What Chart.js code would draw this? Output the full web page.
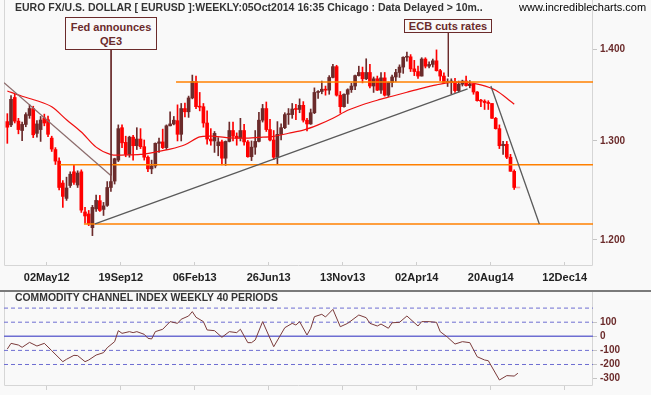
<!DOCTYPE html>
<html>
<head>
<meta charset="utf-8">
<title>EURUSD Weekly</title>
<script src="https://cdn.jsdelivr.net/npm/chart.js@4.4.1/dist/chart.umd.min.js"></script>
<style>
    html, body { margin: 0; padding: 0; background: #f9f9f9; }
    #page { position: relative; width: 651px; height: 395px; overflow: hidden; font-family: 'Liberation Sans', Arial, sans-serif; }
    #priceBox { position: absolute; left: 0; top: 0; width: 651px; height: 290px; }
    #cciBox { position: absolute; left: 0; top: 292px; width: 651px; height: 103px; }
    #divider { position: absolute; left: 0; top: 290px; width: 651px; height: 2px; background: #7a7a7a; }
    .caption { position: absolute; font-weight: bold; font-size: 10.5px; color: #333; white-space: nowrap; z-index: 2; }
    .site { position: absolute; font-size: 11px; color: #000; white-space: nowrap; z-index: 2; }
    .callout { position: absolute; border: 1px solid #6b2b2b; color: #6b2b2b; font-weight: bold; font-size: 11px;
               text-align: center; line-height: 14px; box-sizing: border-box; background: #f9f9f9; z-index: 2; }
</style>
</head>
<body>
<div id="page">
    <div id="priceBox"><canvas id="priceChart"></canvas></div>
    <div id="divider"></div>
    <div id="cciBox"><canvas id="cciChart"></canvas></div>

    <div class="caption" style="left:15px; top:1px;">EURO FX/U.S. DOLLAR [ EURUSD ]:WEEKLY:05Oct2014 16:35 Chicago : Data Delayed &gt; 10m..</div>
    <div class="site" style="left:519px; top:1px;">www.incrediblecharts.com</div>
    <div class="callout" style="left:65px; top:17px; width:92px; height:33px; padding-top:2px;">Fed announces<br>QE3</div>
    <div class="callout" style="left:404px; top:19px; width:88px; height:14px; line-height:12px;">ECB cuts rates</div>
    <div class="caption" style="left:15px; top:292px; font-size:10.4px;">COMMODITY CHANNEL INDEX WEEKLY 40 PERIODS</div>
</div>

<script>
// ---- data (weekly bars, index 0 = week of 15Feb12) ----
const tickLabels = ['02May12', '19Sep12', '06Feb13', '26Jun13', '13Nov13', '02Apr14', '20Aug14', '12Dec14'];
const tickWeeks = [10.65, 30.65, 50.65, 70.65, 90.65, 110.65, 130.65, 150.65];
const priceTicks = [1.2, 1.3, 1.4];
const cciTicks = [-300, -200, -100, 0, 100];

const candleOpen = [
    1.3205, 1.3170, 1.3465, 1.3210, 1.3110, 1.3175, 1.3270, 1.3345, 1.3080, 1.3120,
    1.3245, 1.3225, 1.3030, 1.2910, 1.2790, 1.2565, 1.2410, 1.2540, 1.2680, 1.2545,
    1.2680, 1.2275, 1.2255, 1.2120, 1.2305, 1.2387, 1.2300, 1.2340, 1.2520, 1.2585,
    1.2800, 1.3140, 1.2985, 1.2860, 1.3040, 1.2950, 1.3020, 1.2940, 1.2830, 1.2710,
    1.2740, 1.2975, 1.2990, 1.2930, 1.3160, 1.3180, 1.3215, 1.3070, 1.3345, 1.3310,
    1.3460, 1.3640, 1.3365, 1.3365, 1.3190, 1.3020, 1.3000, 1.2950, 1.2990, 1.2820,
    1.2995, 1.3110, 1.3050, 1.3030, 1.3110, 1.2990, 1.2835, 1.2935, 1.2995, 1.3220,
    1.3345, 1.3120, 1.3010, 1.2830, 1.3070, 1.3140, 1.3280, 1.3280, 1.3340, 1.3335,
    1.3380, 1.3220, 1.3180, 1.3300, 1.3520, 1.3530, 1.3555, 1.3545, 1.3685, 1.3805,
    1.3490, 1.3365, 1.3500, 1.3550, 1.3590, 1.3705, 1.3740, 1.3670, 1.3740, 1.3590,
    1.3670, 1.3545, 1.3680, 1.3490, 1.3630, 1.3690, 1.3740, 1.3800, 1.3910, 1.3915,
    1.3780, 1.3750, 1.3700, 1.3890, 1.3810, 1.3830, 1.3870, 1.3760, 1.3700, 1.3630,
    1.3635, 1.3640, 1.3540, 1.3610, 1.3645, 1.3595, 1.3610, 1.3525, 1.3430, 1.3425,
    1.3410, 1.3400, 1.3240, 1.3130, 1.2950, 1.2965, 1.2830, 1.2685
];
const candleHigh = [
    1.3290, 1.3486, 1.3500, 1.3240, 1.3200, 1.3300, 1.3385, 1.3370, 1.3215, 1.3260,
    1.3285, 1.3265, 1.3050, 1.2930, 1.2825, 1.2590, 1.2625, 1.2680, 1.2748, 1.2690,
    1.2700, 1.2320, 1.2290, 1.2340, 1.2443, 1.2440, 1.2370, 1.2580, 1.2635, 1.2820,
    1.3170, 1.3170, 1.3050, 1.3050, 1.3060, 1.3140, 1.3130, 1.3010, 1.2845, 1.2800,
    1.2980, 1.3030, 1.3125, 1.3170, 1.3310, 1.3260, 1.3385, 1.3400, 1.3405, 1.3480,
    1.3711, 1.3700, 1.3520, 1.3400, 1.3320, 1.3130, 1.3100, 1.3035, 1.3010, 1.3000,
    1.3200, 1.3200, 1.3085, 1.3240, 1.3175, 1.3005, 1.3000, 1.3110, 1.3305, 1.3390,
    1.3416, 1.3230, 1.3110, 1.3205, 1.3180, 1.3300, 1.3345, 1.3400, 1.3390, 1.3450,
    1.3420, 1.3240, 1.3340, 1.3570, 1.3540, 1.3645, 1.3590, 1.3705, 1.3832, 1.3820,
    1.3530, 1.3505, 1.3560, 1.3620, 1.3710, 1.3810, 1.3800, 1.3893, 1.3830, 1.3690,
    1.3700, 1.3740, 1.3740, 1.3635, 1.3710, 1.3775, 1.3825, 1.3915, 1.3967, 1.3940,
    1.3875, 1.3810, 1.3905, 1.3905, 1.3860, 1.3890, 1.3993, 1.3775, 1.3735, 1.3670,
    1.3670, 1.3675, 1.3645, 1.3655, 1.3700, 1.3650, 1.3615, 1.3530, 1.3445, 1.3440,
    1.3430, 1.3400, 1.3250, 1.3170, 1.2995, 1.2995, 1.2860, 1.2700
];
const candleLow = [
    1.2975, 1.3150, 1.3190, 1.3075, 1.3004, 1.3150, 1.3240, 1.3035, 1.3040, 1.2995,
    1.3160, 1.3045, 1.2890, 1.2755, 1.2495, 1.2320, 1.2390, 1.2520, 1.2550, 1.2520,
    1.2270, 1.2165, 1.2140, 1.2042, 1.2280, 1.2280, 1.2240, 1.2330, 1.2480, 1.2555,
    1.2785, 1.2930, 1.2835, 1.2830, 1.2800, 1.2910, 1.2920, 1.2800, 1.2680, 1.2660,
    1.2720, 1.2880, 1.2920, 1.2910, 1.3160, 1.3170, 1.3000, 1.3000, 1.3255, 1.3250,
    1.3450, 1.3345, 1.3320, 1.3145, 1.2965, 1.2955, 1.2880, 1.2845, 1.2750, 1.2745,
    1.2990, 1.3000, 1.2955, 1.3000, 1.2955, 1.2830, 1.2795, 1.2860, 1.2990, 1.3200,
    1.3100, 1.3000, 1.2805, 1.2755, 1.3010, 1.3130, 1.3175, 1.3240, 1.3225, 1.3300,
    1.3200, 1.3105, 1.3175, 1.3290, 1.3455, 1.3505, 1.3490, 1.3500, 1.3680, 1.3480,
    1.3295, 1.3360, 1.3400, 1.3520, 1.3550, 1.3700, 1.3625, 1.3660, 1.3570, 1.3520,
    1.3540, 1.3510, 1.3480, 1.3475, 1.3580, 1.3640, 1.3685, 1.3730, 1.3865, 1.3750,
    1.3705, 1.3675, 1.3700, 1.3790, 1.3790, 1.3800, 1.3755, 1.3650, 1.3620, 1.3585,
    1.3503, 1.3520, 1.3525, 1.3590, 1.3590, 1.3570, 1.3500, 1.3425, 1.3365, 1.3335,
    1.3335, 1.3240, 1.3125, 1.2920, 1.2860, 1.2815, 1.2685, 1.2500
];
const candleClose = [
    1.3145, 1.3445, 1.3210, 1.3120, 1.3175, 1.3280, 1.3345, 1.3065, 1.3180, 1.3222,
    1.3190, 1.3070, 1.2915, 1.2790, 1.2520, 1.2430, 1.2515, 1.2655, 1.2572, 1.2667,
    1.2293, 1.2235, 1.2158, 1.2320, 1.2390, 1.2290, 1.2335, 1.2520, 1.2580, 1.2815,
    1.3130, 1.2980, 1.2860, 1.3040, 1.2950, 1.3020, 1.2940, 1.2830, 1.2710, 1.2740,
    1.2975, 1.2990, 1.2930, 1.3160, 1.3180, 1.3220, 1.3070, 1.3345, 1.3310, 1.3460,
    1.3640, 1.3365, 1.3360, 1.3190, 1.3020, 1.3000, 1.3080, 1.2990, 1.2820, 1.2995,
    1.3110, 1.3050, 1.3030, 1.3110, 1.2990, 1.2835, 1.2935, 1.2995, 1.3220, 1.3345,
    1.3120, 1.3010, 1.2830, 1.3070, 1.3140, 1.3280, 1.3285, 1.3340, 1.3335, 1.3380,
    1.3220, 1.3180, 1.3300, 1.3520, 1.3530, 1.3555, 1.3545, 1.3685, 1.3805, 1.3490,
    1.3365, 1.3500, 1.3550, 1.3590, 1.3705, 1.3740, 1.3670, 1.3740, 1.3590, 1.3670,
    1.3545, 1.3680, 1.3490, 1.3630, 1.3690, 1.3740, 1.3800, 1.3910, 1.3915, 1.3780,
    1.3750, 1.3700, 1.3890, 1.3810, 1.3830, 1.3870, 1.3760, 1.3700, 1.3630, 1.3635,
    1.3640, 1.3540, 1.3610, 1.3645, 1.3595, 1.3610, 1.3525, 1.3430, 1.3425, 1.3410,
    1.3400, 1.3240, 1.3130, 1.2950, 1.2965, 1.2830, 1.2685, 1.2520
];
// unfinished week after the last full bar
const currentWeek = 138;
const currentWeekPrice = 1.2515;

// red moving average, read every four weeks
const maWeeks = [0, 4, 8, 12, 16, 20, 24, 28, 32, 36, 40, 44, 48, 52, 56, 60, 64, 68,
    72, 76, 80, 84, 88, 92, 96, 100, 104, 108, 112, 116, 120, 124, 128, 132, 136, 137];
const maValues = [1.3536, 1.3478, 1.3430, 1.3364, 1.3225, 1.3095, 1.2935, 1.2857, 1.2854, 1.2859,
    1.2884, 1.2914, 1.2960, 1.3043, 1.3049, 1.3033, 1.3029, 1.3038, 1.3049, 1.3081,
    1.3114, 1.3170, 1.3241, 1.3326, 1.3386, 1.3435, 1.3478, 1.3522, 1.3565, 1.3603,
    1.3630, 1.3630, 1.3603, 1.3543, 1.3424, 1.3391];

// horizontal levels (orange)
const levelPrices = [1.3634, 1.2752, 1.2155];
const levelStartWeeks = [45.6, 14.2, 20.7];

// hand-drawn trend lines
const trendStartWeeks = [-0.9, 23.7, 130.7];
const trendStartPrices = [1.3627, 1.2156, 1.3591];
const trendEndWeeks = [28.05, 124.4, 143.8];
const trendEndPrices = [1.2640, 1.3558, 1.2156];

// callout pointers (Fed QE3, ECB cut)
const calloutWeeks = [28.05, 119.2];
const calloutTopPrices = [1.4004, 1.4190];
const calloutBottomPrices = [1.2640, 1.3694];

// commodity channel index (40 weeks)
const cciWeeks = [0, 1, 3, 4, 6, 8, 10, 12, 15, 16, 18, 19, 21, 22, 24, 26, 27, 29, 30, 31,
    33, 34, 35, 37, 38, 39, 40, 42, 44, 46, 47, 49, 50, 51, 53, 54, 56, 58, 60, 62,
    63, 65, 66, 67, 69, 72, 75, 77, 78, 79, 81, 82, 83, 85, 86, 88, 90, 92, 95, 97,
    98, 100, 101, 103, 104, 106, 108, 111, 112, 114, 116, 117, 119, 121, 123, 125, 127, 129, 130, 133,
    135, 137, 138];
const cciValues = [-90, -50, -62, -78, -43, -69, -50, -102, -180, -163, -135, -137, -180, -168, -133, -116, -81, -38, 40, 21,
    33, 26, 33, 14, -14, -19, 33, 50, 104, 92, 121, 144, 175, 135, 104, 45, 40, -7, 33, 26,
    50, -45, -45, -26, 104, -74, 61, 92, 80, 104, 9, 57, 139, 156, 137, 191, 68, 92, 151, 132,
    92, 73, 87, 57, 96, 99, 144, 73, 104, 104, 99, 33, -7, -55, -38, -45, -145, -168, -173, -310,
    -279, -282, -262];
const cciGuideLevels = [200, 100, -100, -200];

// ---- look ----
const X_MIN = -0.9;
const X_MAX = 158.3;
const PRICE_MIN = 1.175;
const PRICE_MAX = 1.4569;
const CCI_MIN = -352.5;
const CCI_MAX = 314.2;

const UP_COLOUR = '#6b2b2b';
const DOWN_COLOUR = '#ff0000';
const PARTIAL_COLOUR = '#f4a8a8';
const MA_COLOUR = '#f01010';
const LEVEL_COLOUR = '#ff8000';
const TREND_COLOURS = ['#8c6c6c', '#5a5a5a', '#5a5a5a'];
const CALLOUT_COLOUR = '#6b2b2b';
const LABEL_RED = '#6b2b2b';
const FRAME_COLOUR = '#d6d6d6';
const CCI_LINE_COLOUR = '#7a3a3a';
const CCI_GUIDE_COLOUR = '#6e6ed2';
const FONT = "'Liberation Sans', Arial, sans-serif";

document.addEventListener('DOMContentLoaded', function() {
    Chart.defaults.font.family = FONT;
    Chart.defaults.animation = false;
    drawPriceChart();
    drawCciChart();
});

/**
 * Thin frame round the plot area of each panel
 */
const panelFrame = {
    id: 'panelFrame',
    beforeDatasetsDraw(chart) {
        const { left, top, right, bottom } = chart.chartArea;
        const ctx = chart.ctx;
        ctx.save();
        ctx.strokeStyle = FRAME_COLOUR;
        ctx.lineWidth = 1;
        ctx.beginPath();
        ctx.moveTo(left + 0.5, top);
        ctx.lineTo(left + 0.5, bottom - 0.5);
        ctx.lineTo(right - 0.5, bottom - 0.5);
        ctx.lineTo(right - 0.5, top);
        ctx.stroke();
        ctx.restore();
    }
};

/**
 * Stop the side axis from pushing the plot area down (label half heights)
 */
function fixSideAxis(scale) {
    scale.width = 58;
    scale.paddingTop = 0;
    scale.paddingBottom = 0;
}

/**
 * Two-point line dataset helper
 */
function segment(x1, y1, x2, y2, colour, width, order) {
    return {
        type: 'line',
        data: [{ x: x1, y: y1 }, { x: x2, y: y2 }],
        borderColor: colour,
        borderWidth: width,
        pointRadius: 0,
        order: order
    };
}

/**
 * Candlesticks (floating bars), moving average and the drawn lines
 */
function drawPriceChart() {
    const wicks = [];
    const bodies = [];
    const colours = [];

    candleOpen.forEach((open, i) => {
        const close = candleClose[i];
        wicks.push({ x: i, y: [candleLow[i], candleHigh[i]] });
        bodies.push({ x: i, y: [open, close] });
        colours.push(close < open ? DOWN_COLOUR : UP_COLOUR);
    });

    const datasets = [
        {
            type: 'bar', data: wicks, backgroundColor: colours, barThickness: 1,
            grouped: false, minBarLength: 1, order: 10
        },
        {
            type: 'bar', data: bodies, backgroundColor: colours, barThickness: 3,
            grouped: false, minBarLength: 1, order: 9
        },
        {
            type: 'bar', data: [{ x: currentWeek, y: [currentWeekPrice, currentWeekPrice] }],
            backgroundColor: PARTIAL_COLOUR, barThickness: 4, grouped: false, minBarLength: 1, order: 9
        },
        {
            type: 'line',
            data: maWeeks.map((w, i) => ({ x: w, y: maValues[i] })),
            borderColor: MA_COLOUR, borderWidth: 1.2, pointRadius: 0, tension: 0.3, order: 5
        }
    ];

    levelPrices.forEach((price, i) => {
        datasets.push(segment(levelStartWeeks[i], price, X_MAX, price, LEVEL_COLOUR, 1.5, 4));
    });

    trendStartWeeks.forEach((week, i) => {
        datasets.push(segment(week, trendStartPrices[i], trendEndWeeks[i], trendEndPrices[i], TREND_COLOURS[i], 1.3, 3));
    });

    calloutWeeks.forEach((week, i) => {
        datasets.push(segment(week, calloutTopPrices[i], week, calloutBottomPrices[i], CALLOUT_COLOUR, 1, 2));
    });

    new Chart(document.getElementById('priceChart'), {
        type: 'bar',
        data: { datasets: datasets },
        options: {
            responsive: true,
            maintainAspectRatio: false,
            layout: { padding: { left: 4, right: 0, top: 0, bottom: 0 } },
            plugins: { legend: { display: false }, tooltip: { enabled: false } },
            scales: {
                x: {
                    type: 'linear',
                    min: X_MIN,
                    max: X_MAX,
                    offset: false,
                    afterBuildTicks: (scale) => { scale.ticks = tickWeeks.map(v => ({ value: v })); },
                    ticks: {
                        callback: (value, index) => tickLabels[index],
                        autoSkip: false,
                        maxRotation: 0,
                        padding: 9,
                        color: '#222',
                        font: { size: 11, weight: 'bold' }
                    },
                    grid: { offset: false, drawOnChartArea: false, tickLength: -4, color: '#cfcfcf' },
                    border: { display: false },
                    afterFit: (scale) => { scale.height = 24; }
                },
                y: {
                    type: 'logarithmic',
                    position: 'right',
                    min: PRICE_MIN,
                    max: PRICE_MAX,
                    afterBuildTicks: (scale) => { scale.ticks = priceTicks.map(v => ({ value: v })); },
                    ticks: {
                        callback: (value) => Number(value).toFixed(3),
                        padding: 3,
                        color: LABEL_RED,
                        font: { size: 10, weight: 'bold' }
                    },
                    grid: { drawOnChartArea: false, tickLength: 4, color: '#c4c4c4' },
                    border: { display: false },
                    afterFit: fixSideAxis
                }
            }
        },
        plugins: [panelFrame]
    });
}

/**
 * Commodity channel index panel with its guide lines
 */
function drawCciChart() {
    const datasets = [];

    cciGuideLevels.forEach(level => {
        const guide = segment(X_MIN, level, X_MAX, level, CCI_GUIDE_COLOUR, 1, 3);
        guide.borderDash = [4, 3];
        datasets.push(guide);
    });
    datasets.push(segment(X_MIN, 0, X_MAX, 0, CCI_GUIDE_COLOUR, 1.5, 2));

    datasets.push({
        type: 'line',
        data: cciWeeks.map((w, i) => ({ x: w, y: cciValues[i] })),
        borderColor: CCI_LINE_COLOUR,
        borderWidth: 1,
        pointRadius: 0,
        order: 1
    });

    new Chart(document.getElementById('cciChart'), {
        type: 'line',
        data: { datasets: datasets },
        options: {
            responsive: true,
            maintainAspectRatio: false,
            layout: { padding: { left: 4, right: 0, top: 0, bottom: 0 } },
            plugins: { legend: { display: false }, tooltip: { enabled: false } },
            scales: {
                x: {
                    type: 'linear',
                    min: X_MIN,
                    max: X_MAX,
                    afterBuildTicks: (scale) => { scale.ticks = tickWeeks.map(v => ({ value: v })); },
                    ticks: { callback: () => '', autoSkip: false, maxRotation: 0 },
                    grid: { drawOnChartArea: false, tickLength: 4, color: '#cfcfcf' },
                    border: { display: false },
                    afterFit: (scale) => { scale.height = 9; }
                },
                y: {
                    type: 'linear',
                    position: 'right',
                    min: CCI_MIN,
                    max: CCI_MAX,
                    afterBuildTicks: (scale) => { scale.ticks = cciTicks.map(v => ({ value: v })); },
                    ticks: {
                        callback: (value) => String(value),
                        padding: 3,
                        color: LABEL_RED,
                        font: { size: 10, weight: 'bold' }
                    },
                    grid: { drawOnChartArea: false, tickLength: 4, color: '#c4c4c4' },
                    border: { display: false },
                    afterFit: fixSideAxis
                }
            }
        },
        plugins: [panelFrame]
    });
}
</script>
</body>
</html>
